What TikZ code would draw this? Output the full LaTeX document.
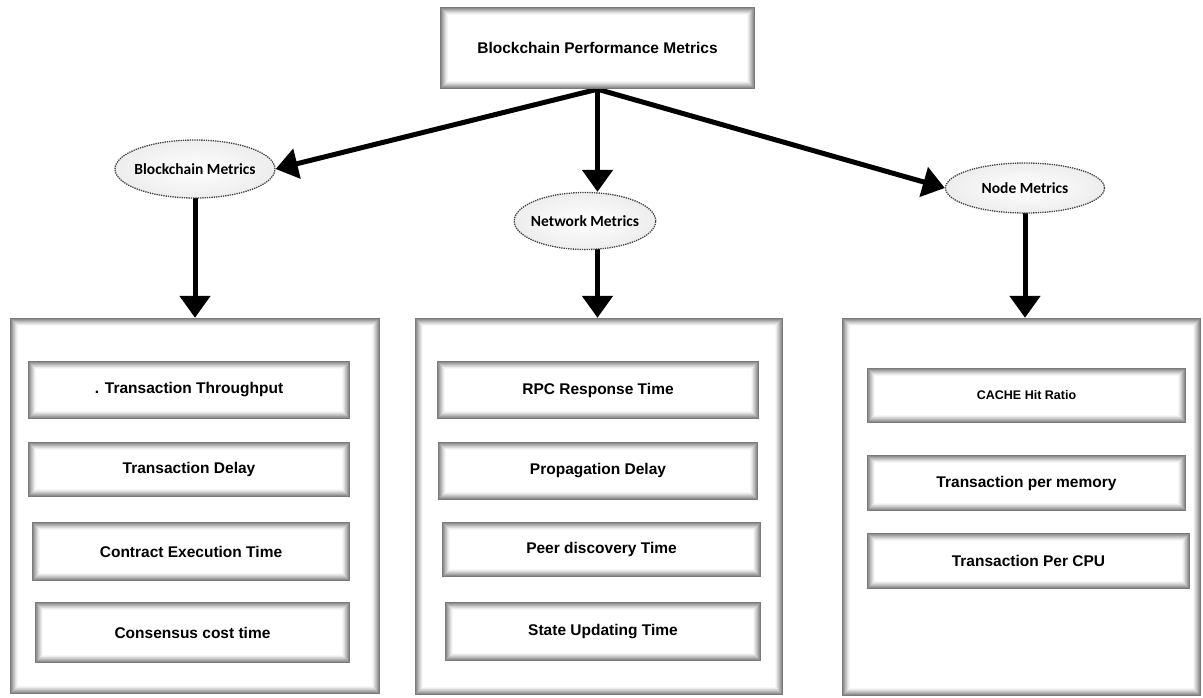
\documentclass[tikz,border=0pt]{standalone}
\usepackage{fontspec}
\setmainfont{Liberation Sans}
\newfontfamily\calib{Carlito}
\usetikzlibrary{arrows.meta,backgrounds,shapes.geometric}

% soft grey inner frame around a node
\newcommand\softframe[1]{%
  \foreach \i/\g in {0/52,1/44,2/36,3/28,4/21,5/14,6/8,7/3}
    \draw[black!\g, line width=1pt]
      ([shift={(\i+0.5,\i+0.5)}]#1.north west) rectangle
      ([shift={(-\i-0.5,-\i-0.5)}]#1.south east);}

\begin{document}
\begin{tikzpicture}[x=1pt,y=-1pt,
  metric/.style={rectangle, inner sep=0pt, font=\bfseries\fontsize{15.5}{18}\selectfont},
  panel/.style={rectangle, inner sep=0pt},
  group/.style={ellipse, draw=black!75, densely dotted, line width=1.3pt,
    inner color=white, outer color=black!7, inner xsep=-4pt, inner ysep=0pt,
    font=\calib\bfseries\fontsize{15.5}{18}\selectfont},
  arr/.style={line width=5pt, -{Triangle[width=30pt,length=22pt]}}]
\useasboundingbox (0,0) rectangle (1203,697);
\begin{scope}[on background layer]
\fill[white] (0,0) rectangle (1203,697);
\end{scope}

% title
\node[metric, minimum width=315, minimum height=82] (top) at (597.5,48) {Blockchain Performance Metrics};
\softframe{top}

% group ellipses
\node[group, minimum width=160, minimum height=58] (bm) at (195,169) {Blockchain Metrics};
\node[group, minimum width=136, minimum height=57] (nm) at (585,221) {Network Metrics};
\node[group, minimum width=159, minimum height=50] (ndm) at (1025,188) {Node Metrics};

% panels
\node[panel, minimum width=370, minimum height=376] (lp) at (195,506) {};
\node[panel, minimum width=368, minimum height=377] (mp) at (599,506.5) {};
\node[panel, minimum width=359, minimum height=378] (rp) at (1021.5,507) {};
\softframe{lp}\softframe{mp}\softframe{rp}

% blockchain metrics
\node[metric, minimum width=322, minimum height=58] (t1) at (189,390) {. Transaction Throughput};
\node[metric, minimum width=322, minimum height=55] (t2) at (189,469.5) {Transaction Delay};
\node[metric, minimum width=318, minimum height=59] (t3) at (191,551.5) {Contract Execution Time};
\node[metric, minimum width=315, minimum height=61] (t4) at (192.5,632.5) {Consensus cost time};
% network metrics
\node[metric, minimum width=322, minimum height=58] (m1) at (598,390) {RPC Response Time};
\node[metric, minimum width=320, minimum height=58] (m2) at (598,471) {Propagation Delay};
\node[metric, minimum width=319, minimum height=55] (m3) at (601.5,549.5) {Peer discovery Time};
\node[metric, minimum width=316, minimum height=59] (m4) at (603,631.5) {State Updating Time};
% node metrics
\node[metric, minimum width=319, minimum height=55, font=\bfseries\fontsize{12.5}{15}\selectfont] (r1) at (1026.5,395.5) {CACHE Hit Ratio};
\node[metric, minimum width=319, minimum height=56] (r2) at (1026.5,483) {Transaction per memory};
\node[metric, minimum width=323, minimum height=56] (r3) at (1028.5,561) {Transaction Per CPU};
\foreach \n in {t1,t2,t3,t4,m1,m2,m3,m4,r1,r2,r3} {\softframe{\n}}

% connectors
\begin{scope}[on background layer]
\draw[arr] (top.south) -- (bm.east);
\draw[arr] (top.south) -- (top.south |- nm.north);
\draw[arr] (top.south) -- (ndm.west);
\draw[arr] (bm.center) -- (bm.center |- lp.north);
\draw[arr] (top.south |- nm.center) -- (top.south |- mp.north);
\draw[arr] (ndm.center) -- (ndm.center |- rp.north);
\end{scope}
\end{tikzpicture}
\end{document}
